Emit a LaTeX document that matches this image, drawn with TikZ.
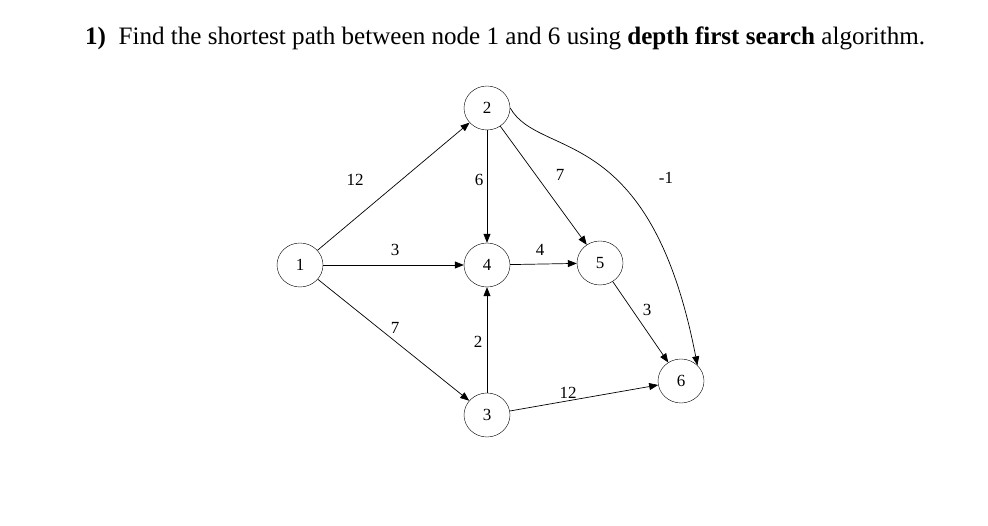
\documentclass[tikz,border=0pt]{standalone}
\usepackage{fontspec}
\setmainfont{Liberation Serif}
\usetikzlibrary{arrows.meta,shapes.geometric}
\begin{document}
\begin{tikzpicture}[x=1pt,y=-1pt,
  nd/.style={draw,ellipse,minimum width=46pt,minimum height=44pt,inner sep=0pt,font=\fontsize{17}{17}\selectfont},
  ed/.style={draw,-{Triangle[length=9pt,width=7pt]},line width=0.7pt},
  lb/.style={font=\fontsize{17}{17}\selectfont,inner sep=0pt}]
\useasboundingbox (0,0) rectangle (988,526);
\node[anchor=west,inner sep=0pt] (title) at (85,38) {\resizebox{840pt}{!}{\textbf{1)}\ \ Find the shortest path between node 1 and 6 using \textbf{depth first search} algorithm.}};
\node[nd] (n1) at (300,265) {1};
\node[nd] (n2) at (487,108) {2};
\node[nd] (n4) at (487,265) {4};
\node[nd] (n5) at (600,263) {5};
\node[nd] (n3) at (487,415) {3};
\node[nd] (n6) at (681,381) {6};
\draw[ed] (n1) -- (n2);
\draw[ed] (n1) -- (n4);
\draw[ed] (n1) -- (n3);
\draw[ed] (n2) -- (n4);
\draw[ed] (n2) -- (n5);
\draw[ed] (n4) -- (n5);
\draw[ed] (n3) -- (n4);
\draw[ed] (n5) -- (n6);
\draw[ed] (n3) -- (n6);
\draw[ed] (n2.east) .. controls (540,160) and (650,120) .. (n6.north east);
\node[lb] (l1) at (355,180) {12};
\node[lb] (l2) at (395,250) {3};
\node[lb] (l3) at (395,328) {7};
\node[lb] (l4) at (479,180) {6};
\node[lb] (l5) at (560,175) {7};
\node[lb] (l6) at (666,178) {-1};
\node[lb] (l7) at (540,250) {4};
\node[lb] (l8) at (647,310) {3};
\node[lb] (l9) at (478,342) {2};
\node[lb] (l10) at (568,393) {12};
\end{tikzpicture}
\end{document}
